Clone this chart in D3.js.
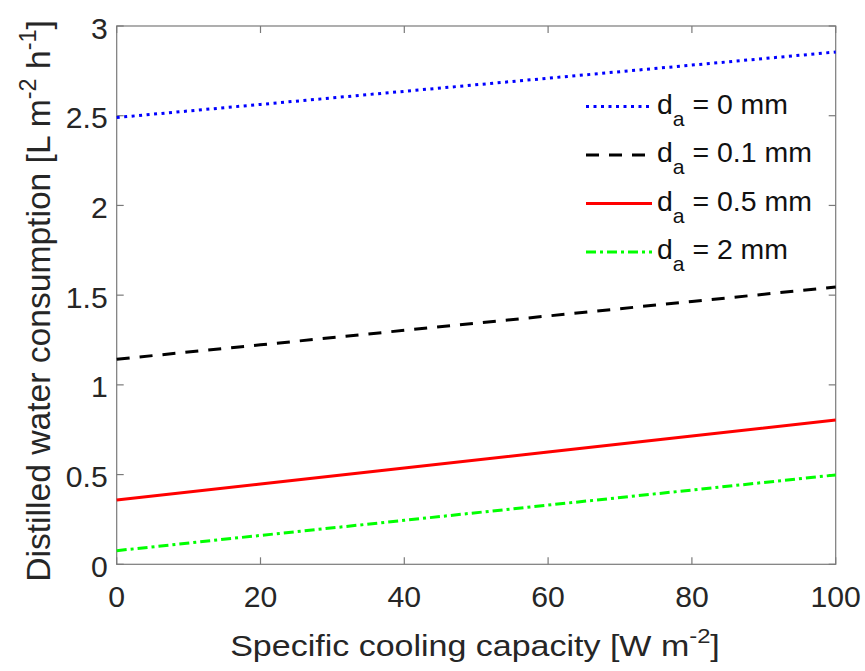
<!DOCTYPE html>
<html>
<head>
<meta charset="utf-8">
<script src="https://cdn.jsdelivr.net/npm/d3@7"></script>
<style>
  body { margin: 0; background: #fff; }
  svg { font-family: "Liberation Sans", Arial, sans-serif; }
</style>
</head>
<body>
<svg id="chart" width="865" height="671"></svg>
<script>
// data
const xValues = [0, 20, 40, 60, 80, 100];
const da0 = [2.49, 2.563, 2.636, 2.709, 2.782, 2.855];
const da01 = [1.143, 1.223, 1.304, 1.384, 1.465, 1.545];
const da05 = [0.358, 0.447, 0.537, 0.626, 0.715, 0.804];
const da2 = [0.076, 0.161, 0.245, 0.33, 0.414, 0.498];
const legendLabels = ["0", "0.1", "0.5", "2"];
const xTicks = [0, 20, 40, 60, 80, 100];
const yTicks = [0, 0.5, 1, 1.5, 2, 2.5, 3];

const series = [
  { vals: da0, color: "#0000ff", dash: "3,4.5" },
  { vals: da01, color: "#000000", dash: "13,10" },
  { vals: da05, color: "#ff0000", dash: null },
  { vals: da2, color: "#00ff00", dash: "10,4,3,4" }
];

const svg = d3.select("#chart");
const W = 865, H = 671;
const margin = { left: 116.7, right: 29.3, top: 26, bottom: 106.7 };
const x = d3.scaleLinear().domain([0, 100]).range([margin.left, W - margin.right]);
const y = d3.scaleLinear().domain([0, 3]).range([H - margin.bottom, margin.top]);

const textColor = "#262626";
const axisColor = "#7a7a7a";

// stretch a text along its own direction so it spans a given length
function fitLength(sel, len, baseTransform) {
  const w = sel.node().getBBox().width;
  sel.attr("transform", `${baseTransform} scale(${len / w},1)`);
}

// axes box
svg.append("rect")
  .attr("x", x(0)).attr("y", y(3))
  .attr("width", x(100) - x(0)).attr("height", y(0) - y(3))
  .attr("fill", "none").attr("stroke", axisColor).attr("stroke-width", 1.2);

const tickLen = 7;
xTicks.forEach(t => {
  svg.append("line").attr("x1", x(t)).attr("x2", x(t))
    .attr("y1", y(0)).attr("y2", y(0) - tickLen)
    .attr("stroke", axisColor).attr("stroke-width", 1.2);
  svg.append("line").attr("x1", x(t)).attr("x2", x(t))
    .attr("y1", y(3)).attr("y2", y(3) + tickLen)
    .attr("stroke", axisColor).attr("stroke-width", 1.2);
  svg.append("text")
    .attr("transform", `translate(${x(t)},${y(0) + 43}) scale(1.04,1)`)
    .attr("text-anchor", "middle").attr("font-size", 29).attr("fill", textColor)
    .text(t);
});
yTicks.forEach(t => {
  svg.append("line").attr("x1", x(0)).attr("x2", x(0) + tickLen)
    .attr("y1", y(t)).attr("y2", y(t))
    .attr("stroke", axisColor).attr("stroke-width", 1.2);
  svg.append("line").attr("x1", x(100)).attr("x2", x(100) - tickLen)
    .attr("y1", y(t)).attr("y2", y(t))
    .attr("stroke", axisColor).attr("stroke-width", 1.2);
  svg.append("text")
    .attr("transform", `translate(${x(0) - 9},${y(t) + 12.5}) scale(1.04,1)`)
    .attr("text-anchor", "end").attr("font-size", 29).attr("fill", textColor)
    .text(t);
});

// lines
const line = d3.line().x((d, i) => x(xValues[i])).y(d => y(d));
series.forEach(s => {
  svg.append("path").datum(s.vals)
    .attr("d", line)
    .attr("fill", "none")
    .attr("stroke", s.color)
    .attr("stroke-width", 3)
    .attr("stroke-dasharray", s.dash);
});

// legend
const legY = [106.5, 155, 203.5, 252];
series.forEach((s, i) => {
  svg.append("line")
    .attr("x1", 586).attr("x2", 652)
    .attr("y1", legY[i]).attr("y2", legY[i])
    .attr("stroke", s.color).attr("stroke-width", 3)
    .attr("stroke-dasharray", s.dash);
  const t = svg.append("text")
    .attr("font-size", 27).attr("fill", "#111");
  t.append("tspan").text("d");
  t.append("tspan").attr("dy", 12).attr("font-size", 20).text("a");
  t.append("tspan").attr("dy", -12).text(" = " + legendLabels[i] + " mm");
  const w = t.node().getBBox().width;
  const target = [131, 155, 155, 131][i];
  t.attr("transform", `translate(657,${legY[i] + 7}) scale(${target / w},1)`);
});

// x label
const xl = svg.append("text")
  .attr("text-anchor", "middle").attr("font-size", 30).attr("fill", textColor);
xl.append("tspan").text("Specific cooling capacity [W m");
xl.append("tspan").attr("dy", -13).attr("font-size", 21).text("-2");
xl.append("tspan").attr("dy", 13).text("]");
fitLength(xl, 490, `translate(475,656)`);

// y label
const yl = svg.append("text")
  .attr("text-anchor", "middle").attr("font-size", 33).attr("fill", textColor);
yl.append("tspan").text("Distilled water consumption [L m");
yl.append("tspan").attr("dy", -14).attr("font-size", 23).text("-2");
yl.append("tspan").attr("dy", 14).text(" h");
yl.append("tspan").attr("dy", -14).attr("font-size", 23).text("-1");
yl.append("tspan").attr("dy", 14).text("]");
fitLength(yl, 562, `translate(50,301) rotate(-90)`);
</script>
</body>
</html>
